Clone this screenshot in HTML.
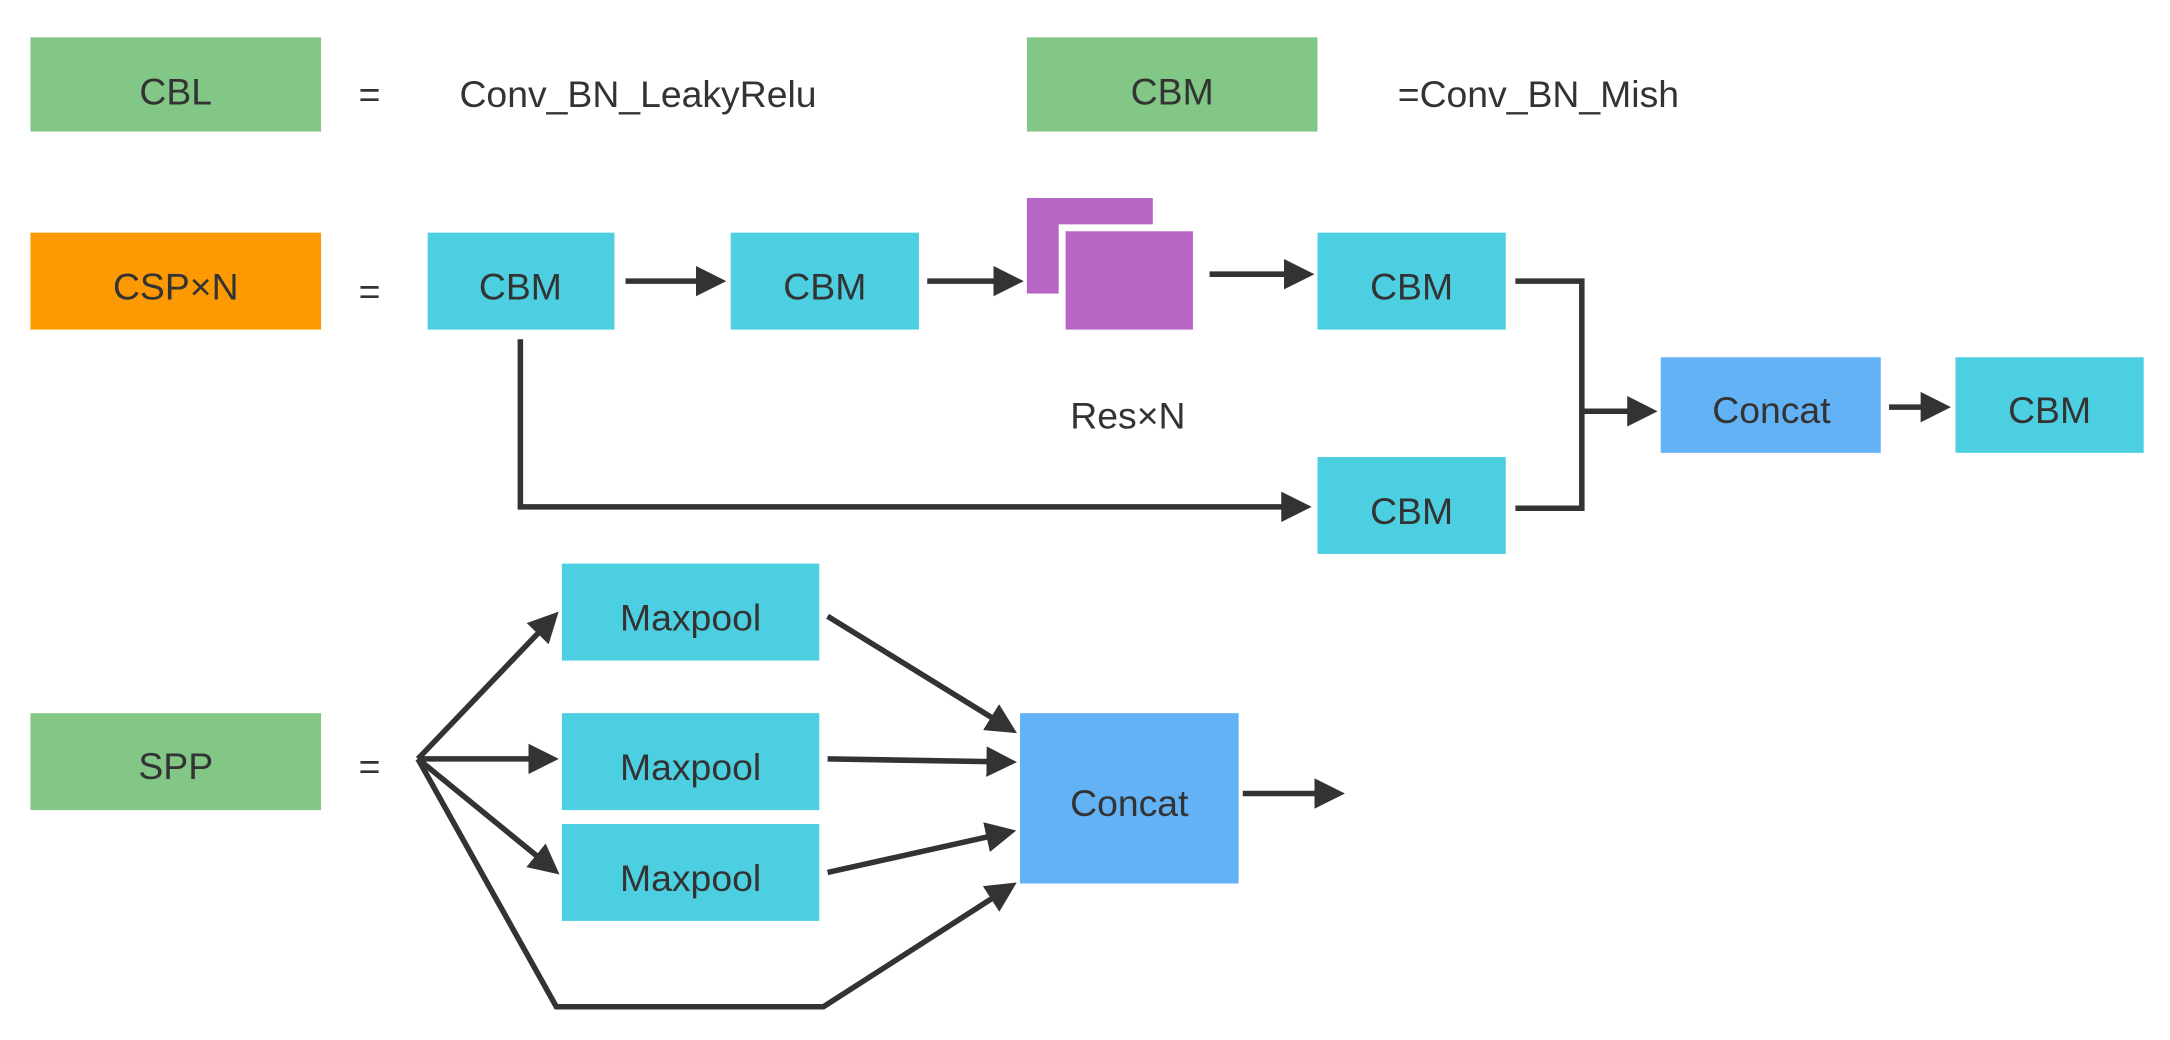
<!DOCTYPE html>
<html><head><meta charset="utf-8"><style>
html,body{margin:0;padding:0;background:#fff;}
svg{display:block;}
text{font-family:"Liberation Sans",sans-serif;font-size:27px;fill:#333;dominant-baseline:central;}
</style></head><body>
<svg width="2170" height="1040" viewBox="0 0 1568 751" preserveAspectRatio="none" xmlns="http://www.w3.org/2000/svg">
<defs>
<marker id="ar" viewBox="0 0 10 10" refX="1" refY="5" markerWidth="22" markerHeight="22" orient="auto" markerUnits="userSpaceOnUse">
<path d="M0,0 L10,5 L0,10 z" fill="#333"/>
</marker>
</defs>
<g stroke="#333" stroke-width="4" fill="none" stroke-linecap="butt">
<line x1="452" y1="203" x2="505" y2="203" marker-end="url(#ar)"/>
<line x1="670" y1="203" x2="720" y2="203" marker-end="url(#ar)"/>
<line x1="874" y1="198" x2="930" y2="198" marker-end="url(#ar)"/>
<polyline points="1095,203 1143,203 1143,367 1095,367"/>
<line x1="1143" y1="297" x2="1178" y2="297" marker-end="url(#ar)"/>
<line x1="1365" y1="294" x2="1390" y2="294" marker-end="url(#ar)"/>
<polyline points="376,245 376,366 928,366" marker-end="url(#ar)"/>
<line x1="302" y1="548" x2="390" y2="456" marker-end="url(#ar)"/>
<line x1="302" y1="548" x2="384" y2="548" marker-end="url(#ar)"/>
<line x1="302" y1="548" x2="389" y2="619" marker-end="url(#ar)"/>
<polyline points="302,548 402,727 595,727 718,648" marker-end="url(#ar)"/>
<line x1="598" y1="445" x2="718" y2="519" marker-end="url(#ar)"/>
<line x1="598" y1="548" x2="715" y2="550" marker-end="url(#ar)"/>
<line x1="598" y1="630" x2="715" y2="604" marker-end="url(#ar)"/>
<line x1="898" y1="573" x2="952" y2="573" marker-end="url(#ar)"/>
</g>
<rect x="22" y="27" width="210" height="68" fill="#82c785"/>
<rect x="742" y="27" width="210" height="68" fill="#82c785"/>
<rect x="22" y="168" width="210" height="70" fill="#fd9902"/>
<rect x="309" y="168" width="135" height="70" fill="#4ccfe1"/>
<rect x="528" y="168" width="136" height="70" fill="#4ccfe1"/>
<rect x="742" y="143" width="91" height="69" fill="#b866c5"/>
<rect x="765" y="162" width="102" height="80" fill="#fff"/>
<rect x="770" y="167" width="92" height="71" fill="#b866c5"/>
<rect x="952" y="168" width="136" height="70" fill="#4ccfe1"/>
<rect x="952" y="330" width="136" height="70" fill="#4ccfe1"/>
<rect x="1200" y="258" width="159" height="69" fill="#63b2f5"/>
<rect x="1413" y="258" width="136" height="69" fill="#4ccfe1"/>
<rect x="406" y="407" width="186" height="70" fill="#4ccfe1"/>
<rect x="406" y="515" width="186" height="70" fill="#4ccfe1"/>
<rect x="406" y="595" width="186" height="70" fill="#4ccfe1"/>
<rect x="737" y="515" width="158" height="123" fill="#63b2f5"/>
<rect x="22" y="515" width="210" height="70" fill="#82c785"/>
<g text-anchor="middle">
<text x="127" y="66">CBL</text>
<text x="847" y="66">CBM</text>
<text x="127" y="207">CSP×N</text>
<text x="376" y="207">CBM</text>
<text x="596" y="207">CBM</text>
<text x="1020" y="207">CBM</text>
<text x="1020" y="369">CBM</text>
<text x="1280" y="296">Concat</text>
<text x="1481" y="296">CBM</text>
<text x="499" y="446">Maxpool</text>
<text x="499" y="554">Maxpool</text>
<text x="499" y="634">Maxpool</text>
<text x="816" y="580">Concat</text>
<text x="127" y="553">SPP</text>
<text x="815" y="300">Res×N</text>
<text x="267" y="68">=</text>
<text x="267" y="210">=</text>
<text x="267" y="553">=</text>
</g>
<text x="332" y="68">Conv_BN_LeakyRelu</text>
<text x="1010" y="68">=Conv_BN_Mish</text>
</svg>
</body></html>
